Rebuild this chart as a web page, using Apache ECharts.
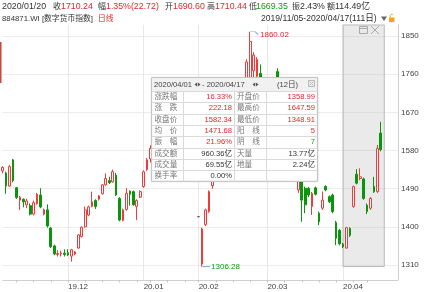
<!DOCTYPE html>
<html><head><meta charset="utf-8">
<script src="https://cdn.jsdelivr.net/npm/echarts@6/dist/echarts.min.js"></script>
<style>html,body{margin:0;padding:0;background:#fff}#c{width:432px;height:292px}</style>
</head><body><div id="c"></div><script>
// ---------------- data ----------------
const DATES = [
'2019/11/05','2019/11/06','2019/11/07','2019/11/08','2019/11/11','2019/11/12','2019/11/13','2019/11/14','2019/11/15','2019/11/18','2019/11/19','2019/11/20','2019/11/21','2019/11/22','2019/11/25','2019/11/26','2019/11/27','2019/11/28','2019/11/29',
'2019/12/02','2019/12/03','2019/12/04','2019/12/05','2019/12/06','2019/12/09','2019/12/10','2019/12/11','2019/12/12','2019/12/13','2019/12/16','2019/12/17','2019/12/18','2019/12/19','2019/12/20','2019/12/23','2019/12/24','2019/12/25','2019/12/26','2019/12/27','2019/12/30','2019/12/31',
'2020/01/02','2020/01/03','2020/01/06','2020/01/07','2020/01/08','2020/01/09','2020/01/10','2020/01/13','2020/01/14','2020/01/15','2020/01/16','2020/01/17','2020/01/20','2020/01/21','2020/01/22','2020/01/23',
'2020/02/03','2020/02/04','2020/02/05','2020/02/06','2020/02/07','2020/02/10','2020/02/11','2020/02/12','2020/02/13','2020/02/14','2020/02/17','2020/02/18','2020/02/19','2020/02/20','2020/02/21','2020/02/24','2020/02/25','2020/02/26','2020/02/27','2020/02/28',
'2020/03/02','2020/03/03','2020/03/04','2020/03/05','2020/03/06','2020/03/09','2020/03/10','2020/03/11','2020/03/12','2020/03/13','2020/03/16','2020/03/17','2020/03/18','2020/03/19','2020/03/20','2020/03/23','2020/03/24','2020/03/25','2020/03/26','2020/03/27','2020/03/30','2020/03/31',
'2020/04/01','2020/04/02','2020/04/03','2020/04/07','2020/04/08','2020/04/09','2020/04/10','2020/04/13','2020/04/14','2020/04/15','2020/04/16','2020/04/17'];

const OPEN = [
1532,1527,1496,1558,1492,1463,1465,1452,1450,1430,
1455,1475,1430,1440,1397,1355,1335,1336,1338,1339,
1331,1336,1350,1377,1400,1428,1448,1462,1465,1478,
1499,1509,1506,1522,1467,1415,1441,1484,1483,1448,
1470,1495,1535,1560,1590,1605,1600,1635,1630,1670,
1655,1663,1670,1690.60,1705,1650,1660,1424,1312,1405,
1436,1497,1545,1585,1572,1612,1600,1645,1692,1698,
1690,1738,1745,1768,1755,1762,1700,1650,1710,1690,
1766,1715,1660,1620,1655,1615,1487,1507,1491,1491,
1448,1492,1432,1444,1495,1471,1475,1410,1392,1358.99,
1350,1396,1448,1524,1514,1513,1451,1444,1495,1483,
1621];
const CLOSE = [
1540,1496,1542,1509,1469,1470,1459,1461,1430,1457,
1477,1447,1440,1402,1353,1336,1337,1338,1335,1334,
1346,1341,1381,1399,1440,1447,1459,1448,1473,1499,
1514,1504,1530,1475,1416,1440,1479,1477,1452,1462,
1483,1530,1558,1585,1612,1590,1632,1628,1665,1658,
1662,1668,1687.52,1710.24,1660,1670,1582,1424,1395,1440,
1483,1540,1580,1570,1615,1598,1640,1690,1700,1688,
1735,1789,1837,1805,1795,1722,1640,1700,1692,1735,
1725,1690,1625,1660,1632,1560,1520,1463,1452,1475,
1479,1477,1412,1463,1487,1459,1436,1373,1360.16,1353,
1398,1380,1495,1503,1518,1467,1436,1467,1483,1585,
1582.34];
const LOW = [
1526,1478,1494,1505,1466,1440,1446,1444,1427,1427,
1452,1444,1427,1398,1350,1333,1330,1330,1330,1331,
1318,1333,1348,1375,1398,1425,1446,1442,1462,1476,
1497,1501,1504,1473,1413,1413,1438,1450,1450,1416,
1468,1492,1532,1552,1585,1575,1596,1618,1626,1650,
1640,1652,1665,1669.35,1650,1620,1575,1424,1306.28,1402,
1433,1490,1535,1560,1568,1590,1595,1640,1680,1675,
1685,1730,1738,1745,1748,1712,1630,1645,1680,1685,
1715,1680,1615,1610,1625,1550,1480,1412,1432,1470,
1428,1474,1404,1440,1484,1456,1432,1357,1356,1350,
1348.91,1376,1445,1500,1510,1464,1430,1440,1480,1480,
1578];
const HIGH = [
1543,1530,1546,1560,1494,1473,1467,1466,1455,1462,
1480,1491,1443,1453,1400,1358,1345,1344,1347,1347,
1348,1343,1383,1401,1448,1450,1483,1465,1475,1501,
1526,1518,1535,1527,1470,1443,1491,1486,1485,1465,
1486,1533,1562,1592,1618,1610,1636,1642,1668,1684,
1670,1678,1695,1710.44,1712,1675,1668,1424,1398,1443,
1486,1548,1585,1600,1620,1625,1648,1695,1712,1715,
1742,1795,1860.02,1812,1800,1783,1710,1705,1725,1742,
1774,1722,1670,1665,1668,1620,1530,1512,1495,1494,
1482,1495,1436,1483,1498,1474,1478,1414,1395,1362,
1400,1399,1497,1536,1538,1516,1455,1470,1518,1593,
1647.59];

const Y_TICKS = [1310, 1400, 1490, 1580, 1670, 1760, 1850];
const Y_MIN = 1274.63, Y_MAX = 1875.94;
const PAD_SLOTS = 5;
const RANGE_START = '2020/04/01', RANGE_END = '2020/04/17';

const HEADER1 = ['2020/01/20','收','1710.24','幅','1.35%(22.72)','开','1690.60','高','1710.44','低','1669.35','振','2.43%','额','114.49亿'];
const HEADER2 = ['884871.WI [数字货币指数]','日线','2019/11/05-2020/04/17(111日)'];
const TABLE_TITLE = ['2020/04/01','- 2020/04/17','(12日)'];
const TABLE_ROWS = [
 ['涨跌幅','16.33%','开盘价','1358.99'],
 ['涨　跌','222.18','最高价','1647.59'],
 ['收盘价','1582.34','最低价','1348.91'],
 ['均　价','1471.68','阳　线','5'],
 ['振　幅','21.96%','阴　线','7'],
 ['成交额','960.36亿','天量','13.77亿'],
 ['成交量','69.55亿','地量','2.24亿'],
 ['换手率','0.00%','','']
];

// ---------------- helpers ----------------
const FONT = '"Liberation Sans","Noto Sans CJK SC",sans-serif';
const RED = '#e3262d', GREEN = '#149a14', DARK = '#333', LBL = '#777';
const UP = '#ee3c3c', DOWN = '#0a960a';

const toDate = s => new Date(+s.slice(0,4), +s.slice(5,7)-1, +s.slice(8,10));
const MONTH_START = DATES.map((d,i) => i > 0 && d.slice(0,7) !== DATES[i-1].slice(0,7));
const WEEK_START = DATES.map((d,i) => {
  if (i === 0) return false;
  const a = toDate(DATES[i-1]), b = toDate(d);
  return b.getDay() <= a.getDay() || (b - a) > 6*86400000;
});
const ohlc = DATES.map((d,i) => [OPEN[i], CLOSE[i], LOW[i], HIGH[i]]);
const minLow = Math.min(...LOW);
const sIdx = DATES.indexOf(RANGE_START), eIdx = DATES.indexOf(RANGE_END);

function txt(x, y, text, color, size, align) {
  return {type:'text', x, y, z:100, silent:true,
    style:{text, fill:color, fontSize:size, fontFamily:FONT, align:align||'left', verticalAlign:'middle'}};
}
function line(x1,y1,x2,y2,color){
  return {type:'line', z:100, silent:true, shape:{x1,y1,x2,y2}, style:{stroke:color, lineWidth:1}};
}

const G = [];
// header line 1
const H1X = [2,53,61,98,106,165,173,207,215,249,256,292,300,327,335];
const H1C = [DARK,DARK,RED,DARK,RED,DARK,RED,DARK,RED,DARK,GREEN,DARK,DARK,DARK,DARK];
HEADER1.forEach((t,i) => G.push(txt(H1X[i], 7, t, H1C[i], (i % 2 === 1) ? 8 : 8.8)));
// header line 2
G.push(txt(2, 19, HEADER2[0], DARK, 7.8));
G.push(txt(98, 19, HEADER2[1], RED, 7.8));
G.push(txt(261, 19, HEADER2[2], DARK, 8.6));
G.push({type:'polygon', z:100, silent:true, shape:{points:[[381,16.5],[387,16.5],[384,21]]}, style:{fill:'#666'}});
G.push({type:'rect', z:100, silent:true, shape:{x:389,y:17.5,width:5.5,height:4.5}, style:{fill:'#f2a22a'}});
G.push({type:'polyline', z:100, silent:true, shape:{points:[[390.3,17.5],[390.3,15.2],[391.1,14.4],[392.5,14.4],[393.3,15.2]]}, style:{stroke:'#f2a22a', fill:null, lineWidth:1}});
// left red marker
G.push({type:'rect', z:100, silent:true, shape:{x:0,y:42,width:1.5,height:41}, style:{fill:'#c9463d'}});
// box icons
G.push({type:'rect', z:100, silent:true, shape:{x:359.5,y:26.5,width:8,height:7}, style:{fill:null, stroke:'#aaa', lineWidth:1}});
G.push(line(359.5,28.5,367.5,28.5,'#aaa'));
G.push(line(371,26,379,34,'#aaa'));
G.push(line(379,26,371,34,'#aaa'));

// info table
const TX0 = 151.5, TX1 = 317.5, TY0 = 77.5, TITLE_H = 13.5, ROW_H = 11.3;
const TY1 = TY0 + TITLE_H + ROW_H * TABLE_ROWS.length;
G.push({type:'rect', z:100, silent:true, shape:{x:TX0,y:TY0,width:TX1-TX0,height:TY1-TY0}, style:{fill:'#ffffff', stroke:'#c4c4c4', lineWidth:1, shadowBlur:2, shadowColor:'rgba(0,0,0,0.12)'}});
G.push({type:'rect', z:100, silent:true, shape:{x:TX0+0.5,y:TY0+0.5,width:TX1-TX0-1,height:TITLE_H-0.5}, style:{fill:'#f1f1f1'}});
for (let k = 0; k < TABLE_ROWS.length; k++) {
  const y = Math.round(TY0 + TITLE_H + k*ROW_H) + 0.5;
  G.push(line(TX0, y, TX1, y, '#dadada'));
}
[183.5, 234.5, 266.5].forEach(x => G.push(line(x, TY0+TITLE_H, x, TY1, '#dadada')));
const tcy = TY0 + TITLE_H/2 + 0.3;
G.push(txt(154, tcy, TABLE_TITLE[0], '#444', 7.6));
G.push(txt(202, tcy, TABLE_TITLE[1], '#444', 7.6));
G.push(txt(277, tcy, TABLE_TITLE[2], '#444', 7.6));
[194.5, 252.5].forEach(x => {
  G.push({type:'polygon', z:100, silent:true, shape:{points:[[x,tcy],[x+2.6,tcy-2],[x+2.6,tcy+2]]}, style:{fill:'#555'}});
  G.push({type:'polygon', z:100, silent:true, shape:{points:[[x+3.4,tcy-2],[x+3.4,tcy+2],[x+6,tcy]]}, style:{fill:'#555'}});
});
G.push({type:'rect', z:100, silent:true, shape:{x:308.5,y:80.5,width:6,height:6}, style:{fill:null, stroke:'#bbb', lineWidth:1}});
G.push(line(309.5,81.5,313.5,85.5,'#bbb'));
G.push(line(313.5,81.5,309.5,85.5,'#bbb'));
const VAL2C = [RED,RED,RED,RED,RED,DARK,DARK,DARK];
const VAL4C = [RED,RED,RED,RED,GREEN,DARK,DARK,DARK];
TABLE_ROWS.forEach((r,k) => {
  const cy = TY0 + TITLE_H + k*ROW_H + ROW_H/2 + 0.4;
  G.push(txt(154.5, cy, r[0], LBL, 7.6));
  G.push(txt(232, cy, r[1], VAL2C[k], 7.6, 'right'));
  G.push(txt(237, cy, r[2], LBL, 7.6));
  G.push(txt(315, cy, r[3], VAL4C[k], 7.6, 'right'));
});

// ---------------- chart ----------------
const chart = echarts.init(document.getElementById('c'), null, {renderer:'canvas'});
chart.setOption({
  animation: false,
  backgroundColor: '#fff',
  grid: {left: 2.7, right: 34, top: 25, bottom: 12, containLabel: false, outerBoundsMode: 'none'},
  xAxis: {
    type: 'category', data: DATES, boundaryGap: false, max: DATES.length - 1 + PAD_SLOTS,
    axisLine: {show: true, lineStyle: {color: '#d0d0d0'}},
    axisTick: {show: true, interval: i => !!WEEK_START[i], length: 2.5, lineStyle: {color: '#c4c4c4'}},
    axisLabel: {show: true, interval: i => !!MONTH_START[i],
      formatter: v => v ? v.slice(2,4) + '.' + v.slice(5,7) : '',
      align: 'left', margin: 2.5, fontSize: 8, color: '#444', fontFamily: FONT},
    splitLine: {show: true, interval: i => !!MONTH_START[i], lineStyle: {color: '#e8e8e8', width: 1}}
  },
  yAxis: {
    type: 'value', position: 'right', min: Y_MIN, max: Y_MAX, scale: true,
    axisLine: {show: true, lineStyle: {color: '#d0d0d0'}},
    axisTick: {show: false, customValues: Y_TICKS},
    axisLabel: {customValues: Y_TICKS, formatter: v => String(v), fontSize: 8, color: '#444', margin: 3, fontFamily: FONT},
    splitLine: {show: true, lineStyle: {color: '#ececec', width: 1}}
  },
  series: [{
    type: 'candlestick', data: ohlc, barWidth: 2.2, clip: false, silent: true,
    itemStyle: {color: '#ffffff', color0: DOWN, borderColor: UP, borderColor0: DOWN, borderColorDoji: '#555', borderWidth: 1},
    markArea: {
      silent: true,
      itemStyle: {color: 'rgba(200,200,200,0.38)', borderColor: '#b8b8b8', borderWidth: 1},
      data: [[{xAxis: sIdx - 0.5, yAxis: minLow}, {xAxis: eIdx + 0.5, yAxis: Y_MAX}]]
    },
    markPoint: {
      silent: true,
      data: [
        {type: 'max', valueDim: 'highest', symbol: 'path://M0 0 L5 0 L8 3', symbolSize: [8, 3], symbolOffset: [4, 1.5],
         itemStyle: {color: 'rgba(0,0,0,0)', borderColor: '#7fb0e0', borderWidth: 1},
         label: {show: true, position: 'right', distance: 1, offset: [0, 1.5], color: RED, fontSize: 8, fontFamily: FONT,
                 formatter: p => Number(p.value).toFixed(2)}},
        {type: 'min', valueDim: 'lowest', symbol: 'rect', symbolSize: [8, 1], symbolOffset: [4, 0],
         itemStyle: {color: '#7fb0e0'},
         label: {show: true, position: 'right', distance: 1, color: GREEN, fontSize: 8, fontFamily: FONT,
                 formatter: p => Number(p.value).toFixed(2)}}
      ]
    }
  }],
  graphic: G
});
</script></body></html>
